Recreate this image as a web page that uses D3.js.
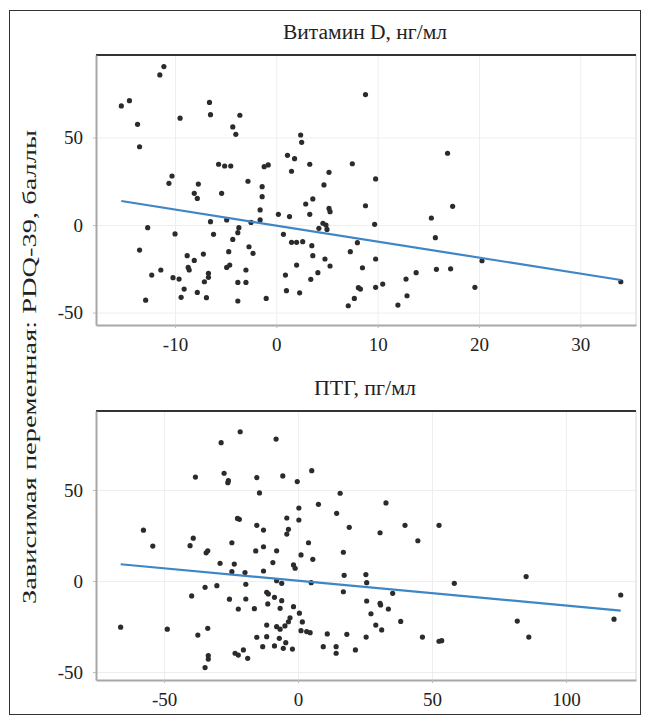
<!DOCTYPE html>
<meta charset="utf-8">
<html>
<style>
body { margin: 0; background: #fff; }
text { font-family: "Liberation Serif", "DejaVu Serif", serif; fill: #222; }
.tick text { font-size: 19px; }
.grid line { stroke: #eeeeee; stroke-width: 1; }
.grid .domain { display: none; }
.axis .domain { stroke: #a8a8a8; stroke-width: 2; }
.axis .tick line { stroke: #bbb; }
.dots circle { fill: #2b2b2b; }
.fit { stroke: #3f86c6; stroke-width: 2.2; fill: none; }
</style>
<svg width="649" height="723"></svg>
<script src="https://d3js.org/d3.v7.min.js"></script>
<script>
// panel 1: vitamin D change vs PDQ-39
var vitD_x = [-15.3,-14.5,-13.7,-13.5,-11.5,-11.1,-9.5,-6.6,-6.5,-4.3,-4.0,-3.6,2.4,2.5,1.1,1.8,3.3,1.5,5.2,4.7,
  7.5,-5.7,-5.1,-4.5,-1.2,-0.8,-10.3,-10.6,-7.7,-2.8,-1.4,8.8,9.8,16.9,-8.1,-7.8,-5.4,-1.4,-1.6,-1.6,
  0.2,1.3,2.9,3.6,3.3,5.2,5.3,4.6,4.9,4.2,5.0,-6.5,-4.9,-2.5,-12.7,-10,-6.2,-3.7,-3.8,-4.3,
  0.7,1.5,2.0,2.6,3.5,-13.5,-8.8,-8.1,-7.2,-8.7,-8.6,-4.7,-2.7,-2.3,-4.9,-4.6,-3.0,-12.3,-11.4,-10.2,
  -9.6,-6.7,-6.7,-7.1,-9.1,-9.4,-7.8,-6.9,-12.9,-3.8,-3.0,-3.8,-1.0,0.9,2.0,3.6,4.8,5.3,4.1,3.4,
  1.0,2.3,7.3,8.0,8.1,7.7,7.1,8.8,9.7,9.8,8.5,8.3,9.8,10.5,12.8,13.8,12.9,12.0,15.3,15.7,
  17.4,15.8,17.2,19.6,20.3,34.0];
var vitD_y = [68,71,57.5,44.7,85.7,90.5,61,70,63,56,51.8,62.7,51.4,47.2,39.8,37.9,34.7,30.7,30.1,22.9,
  35,34.7,33.7,33.7,33.3,34.3,28,23.8,23.4,25,21.9,74.5,26.3,41,18.1,15.2,18.1,16.2,8.6,2.9,
  6.1,4.8,12,14.9,6.1,9.5,7.6,1,0,-1.9,-2.5,1.9,2.9,1.5,-1.5,-5.1,-5.3,-1.5,-4.4,-8.2,
  -5.3,-9.9,-9.9,-9.5,-11.8,-14.3,-17.5,-20.2,-16.6,-24.2,-25.7,-15.2,-12.4,-16.2,-24.2,-22.9,-25.7,-28.6,-25.7,-30.1,
  -30.9,-27.6,-29.9,-32.4,-36.6,-41.3,-38.5,-41.5,-42.9,-32.8,-32.8,-43.4,-41.9,-28.6,-22.9,-17.5,-19.4,-23.4,-27.2,-31.0,
  -37.5,-38.7,-15.2,-10.1,-35.8,-41.9,-46.1,11,0.4,-19.4,-24.4,-36.6,-35.6,-33.7,-30.9,-27.2,-40.4,-45.7,4,-7.2,
  10.7,-25.3,-25,-35.6,-20.4,-32.4];
var vitD_fit = { intercept: -0.3, slope: -0.915 };
var vitD_xticks = [-10, 0, 10, 20, 30];

// panel 2: PTH change vs PDQ-39
var pth_x = [-21.6,-28.7,-8.2,-38.3,-27.6,-26,-26.2,-15.4,-5.7,-0.3,5.1,-14.4,15.7,0.3,7.6,14.4,-22.6,-21.9,-4.2,0.3,
  -15.4,-12.9,-3.6,-4.2,19.1,-57.7,-39.1,-54.2,-40.3,-24.7,3.9,-12.9,32.8,30.6,39.9,52.6,44.7,-15.8,-8,-33.7,
  -34.3,-29.1,-23.8,-24.7,-19.8,-12.9,-9.4,-1.7,-1.1,1.1,5.5,16.9,17.2,16.9,4.9,-8,-6.1,-66.2,-48.8,-39.7,
  -34.7,-30.3,-19.5,-25.6,-19.5,-22.3,-16.3,-11.7,-11.1,-8.8,-6.1,-11.3,-6.7,-1.7,0.5,-3,-3.6,-4.9,1.6,-11.7,
  -8,-6.7,1.1,3.2,4.5,10.9,18.2,-33.7,-37.4,-15.4,-11.7,-7,-4.6,-13.2,-8.8,-5.5,-2.1,9.4,14.2,14.2,
  21.4,-23.5,-22.3,-20.4,-18.8,-33.5,-33.5,-34.7,25.3,25.6,35.3,58.3,85.1,120.4,117.9,81.8,86.1,25.6,30.6,30.8,
  33.7,27.2,38.3,29,31.2,25.4,46.4,52.6,53.6];
var pth_y = [82,76,78,57.1,59.2,55.1,54,56.8,57.7,54.6,60.6,48.4,48.2,40.1,42.1,37.2,34.4,33.9,34.6,33.5,
  30.6,28,28.4,25.8,29.5,27.9,23.5,19.2,19.4,21,21,18.8,42.9,26.5,30.6,30.6,22.1,16.5,16.6,16.6,
  15.5,9.7,9.3,5.1,4.6,5.5,10.1,8.8,7,14.3,11.9,15.8,3.1,-5.9,-0.9,0.2,-1.3,-25.4,-26.5,-8.2,
  -3.5,-2.6,-1.8,-10,-9.9,-15.4,-15.2,-6.2,-7.1,-9,-10.8,-12.6,-15,-14.1,-17.7,-20.2,-22.4,-24.7,-22.5,-24.2,
  -25.1,-26.5,-27.3,-27.8,-28.4,-29.1,-29.3,-26,-29.7,-30.9,-30.6,-31.5,-33.9,-36.1,-35.7,-37,-37.4,-36.1,-36.1,-39.7,
  -37.9,-39.7,-40.7,-37.9,-42.5,-41,-42.9,-47.6,3.5,-0.9,-6.8,-1.3,2.4,-7.7,-21,-22,-30.8,-11,-12.3,-13.2,
  -15.4,-18,-22.2,-24.2,-26.9,-30.8,-30.8,-33.1,-32.8];
var pth_fit = { intercept: 0.15, slope: -0.1367 };
var pth_xticks = [-50, 0, 50, 100];

var yticks = [-50, 0, 50];

var svg = d3.select("svg");
var fmt = function(d) { return String(d); }; // plain hyphen minus, as in the original

// outer frame
svg.append("rect")
    .attr("x", 9.5).attr("y", 10.5)
    .attr("width", 631).attr("height", 704)
    .attr("fill", "none").attr("stroke", "#333").attr("stroke-width", 1);

svg.append("text")
    .attr("transform", "translate(36,367) rotate(-90)")
    .attr("text-anchor", "middle")
    .attr("textLength", 474)
    .attr("lengthAdjust", "spacingAndGlyphs")
    .style("font-size", "19px")
    .text("Зависимая переменная: PDQ-39, баллы");

function panel(opts) {
  var x = d3.scaleLinear().domain(opts.xdom).range([96, 636]);
  var y = d3.scaleLinear().domain(opts.ydom).range([opts.bottom, opts.top]);
  var g = svg.append("g");

  g.append("text")
      .attr("x", 365).attr("y", opts.top - 16)
      .attr("text-anchor", "middle")
      .attr("textLength", opts.titleW)
      .attr("lengthAdjust", "spacingAndGlyphs")
      .style("font-size", "20px")
      .text(opts.title);

  // gridlines
  g.append("g").attr("class", "grid")
      .attr("transform", "translate(0," + opts.bottom + ")")
      .call(d3.axisBottom(x).tickValues(opts.xticks).tickSize(-(opts.bottom - opts.top)).tickFormat(""));
  g.append("g").attr("class", "grid")
      .attr("transform", "translate(96,0)")
      .call(d3.axisLeft(y).tickValues(yticks).tickSize(-540).tickFormat(""));

  // right edge + top border
  g.append("line").attr("x1", 636).attr("x2", 636).attr("y1", opts.top).attr("y2", opts.bottom)
      .attr("stroke", "#e4e4e4").attr("stroke-width", 1.5);
  g.append("line").attr("x1", 96).attr("x2", 636).attr("y1", opts.top).attr("y2", opts.top)
      .attr("stroke", "#333").attr("stroke-width", 2);

  g.append("g").attr("class", "axis")
      .attr("transform", "translate(0," + opts.bottom + ")")
      .call(d3.axisBottom(x).tickValues(opts.xticks).tickFormat(fmt).tickSize(3).tickPadding(6).tickSizeOuter(0))
      .call(function(a) { a.selectAll(".tick text").attr("fill", "#222").attr("dy", "0.9em"); });
  g.append("g").attr("class", "axis")
      .attr("transform", "translate(96,0)")
      .call(d3.axisLeft(y).tickValues(yticks).tickFormat(fmt).tickSize(3).tickPadding(10).tickSizeOuter(0))
      .call(function(a) { a.selectAll(".tick text").attr("fill", "#222"); });

  var pts = opts.xs.map(function(v, i) { return [v, opts.ys[i]]; });
  g.append("g").attr("class", "dots")
    .selectAll("circle")
    .data(pts)
    .enter().append("circle")
      .attr("cx", function(d) { return x(d[0]); })
      .attr("cy", function(d) { return y(d[1]); })
      .attr("r", 2.6);

  var ext = d3.extent(opts.xs);
  g.append("line").attr("class", "fit")
      .attr("x1", x(ext[0])).attr("y1", y(opts.fit.intercept + opts.fit.slope * ext[0]))
      .attr("x2", x(ext[1])).attr("y2", y(opts.fit.intercept + opts.fit.slope * ext[1]));
}

panel({ title: "Витамин D, нг/мл", titleW: 164, xs: vitD_x, ys: vitD_y, fit: vitD_fit, xticks: vitD_xticks,
        xdom: [-17.8, 35.5], ydom: [-57.1, 97.1], top: 55, bottom: 325 });
panel({ title: "ПТГ, пг/мл", titleW: 102, xs: pth_x, ys: pth_y, fit: pth_fit, xticks: pth_xticks,
        xdom: [-75.4, 126.1], ydom: [-54.4, 93.4], top: 411, bottom: 680 });
</script>
</html>
